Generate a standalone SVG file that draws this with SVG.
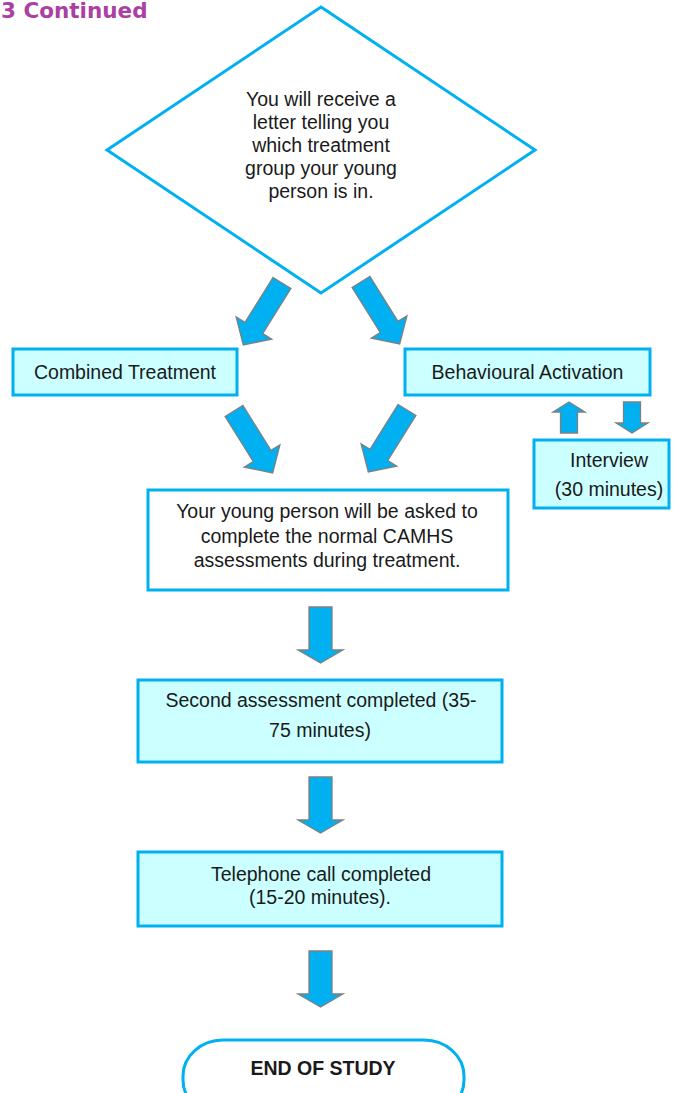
<svg xmlns="http://www.w3.org/2000/svg" width="673" height="1093" viewBox="0 0 673 1093">
  <style>
    .title { font-family: "DejaVu Sans", Verdana, sans-serif; font-weight: bold; font-size: 21.5px; fill: #ab3fa2; }
    .box { fill: #ccffff; stroke: #00b0f0; stroke-width: 3; }
    .plain { fill: #ffffff; stroke: #00b0f0; stroke-width: 3; }
    .lbl { font-family: "Liberation Sans", Arial, sans-serif; font-size: 19.5px; fill: #1a1a1a; text-anchor: middle; }
    .bold { font-weight: bold; }
    .arrow { fill: #00b0f0; stroke: #7f7f7f; stroke-width: 1.3; stroke-linejoin: miter; }
  </style>
  <defs>
    <!-- block arrows, drawn pointing down from the shaft start at the origin -->
    <path id="arrow-diag" d="M -10.5 0 H 10.5 V 53 H 21 L 0 73 L -21 53 H -10.5 Z"/>
    <path id="arrow-down" d="M -11.5 0 H 11.5 V 43 H 22.5 L 0 56 L -22.5 43 H -11.5 Z"/>
    <path id="arrow-small" d="M -8.5 0 H 8.5 V 21 H 16 L 0 31 L -16 21 H -8.5 Z"/>
  </defs>

  <rect width="673" height="1093" fill="#ffffff"/>

  <text class="title" x="1" y="18">3 Continued</text>

  <g id="connectors">
    <use href="#arrow-diag" class="arrow" transform="translate(282 283) rotate(32)"/>
    <use href="#arrow-diag" class="arrow" transform="translate(361 282) rotate(-32)"/>
    <use href="#arrow-diag" class="arrow" transform="translate(234 411) rotate(-32)"/>
    <use href="#arrow-diag" class="arrow" transform="translate(407 410) rotate(32)"/>
    <use href="#arrow-small" class="arrow" transform="translate(569 433) rotate(180)"/>
    <use href="#arrow-small" class="arrow" transform="translate(632 402)"/>
    <use href="#arrow-down" class="arrow" transform="translate(320.5 607)"/>
    <use href="#arrow-down" class="arrow" transform="translate(320.5 777)"/>
    <use href="#arrow-down" class="arrow" transform="translate(320.5 951)"/>
  </g>

  <g id="letter">
    <polygon class="plain" points="321,7 535,150 321,293 107,150"/>
    <text class="lbl" x="321" y="106">You will receive a</text>
    <text class="lbl" x="321" y="129">letter telling you</text>
    <text class="lbl" x="321" y="152">which treatment</text>
    <text class="lbl" x="321" y="175">group your young</text>
    <text class="lbl" x="321" y="198">person is in.</text>
  </g>

  <g id="combined">
    <rect class="box" x="13" y="349" width="224" height="46"/>
    <text class="lbl" x="125" y="379">Combined Treatment</text>
  </g>

  <g id="behavioural">
    <rect class="box" x="405" y="349" width="245" height="46"/>
    <text class="lbl" x="527.5" y="379">Behavioural Activation</text>
  </g>

  <g id="interview">
    <rect class="box" x="534" y="440" width="135" height="68"/>
    <text class="lbl" x="609" y="467">Interview</text>
    <text class="lbl" x="609" y="496">(30 minutes)</text>
  </g>

  <g id="assessments">
    <rect class="plain" x="148" y="490" width="360" height="100"/>
    <text class="lbl" x="327" y="518">Your young person will be asked to</text>
    <text class="lbl" x="327" y="543">complete the normal CAMHS</text>
    <text class="lbl" x="327" y="567">assessments during treatment.</text>
  </g>

  <g id="second-assessment">
    <rect class="box" x="138" y="680" width="364" height="82"/>
    <text class="lbl" x="321" y="707">Second assessment completed (35-</text>
    <text class="lbl" x="320" y="737">75 minutes)</text>
  </g>

  <g id="telephone">
    <rect class="box" x="138" y="852" width="364" height="74"/>
    <text class="lbl" x="321" y="881">Telephone call completed</text>
    <text class="lbl" x="320" y="904">(15-20 minutes).</text>
  </g>

  <g id="end">
    <rect class="plain" x="183" y="1040" width="281" height="76" rx="40" ry="36"/>
    <text class="lbl bold" x="323" y="1075">END OF STUDY</text>
  </g>
</svg>
